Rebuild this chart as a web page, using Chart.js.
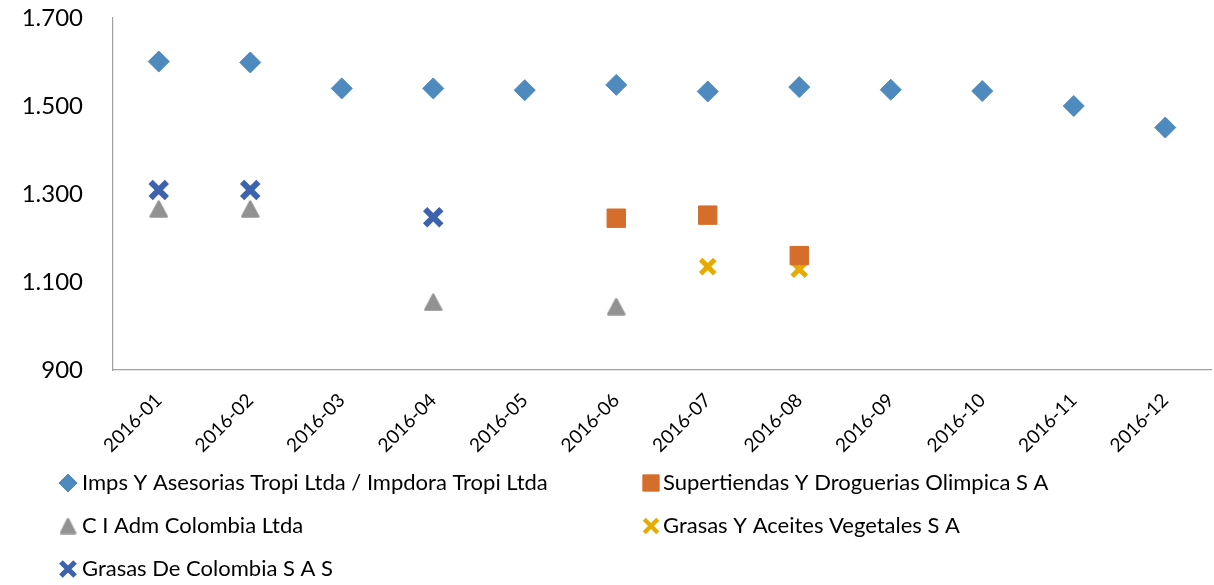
<!DOCTYPE html>
<html>
<head>
<meta charset="utf-8">
<script src="https://cdn.jsdelivr.net/npm/chart.js@4/dist/chart.umd.min.js"></script>
<style>
  html, body { margin: 0; padding: 0; background: #fff; }
  #wrap { width: 1214px; height: 585px; position: relative; }
</style>
</head>
<body>
<div id="wrap"><canvas id="c" width="1214" height="585"></canvas></div>
<script>
const categories = ['2016-01','2016-02','2016-03','2016-04','2016-05','2016-06','2016-07','2016-08','2016-09','2016-10','2016-11','2016-12'];
const seriesNames = [
  'Imps Y Asesorias Tropi Ltda / Impdora Tropi Ltda',
  'Supertiendas Y Droguerias Olimpica S A',
  'C I Adm Colombia Ltda',
  'Grasas Y Aceites Vegetales S A',
  'Grasas De Colombia S A S'
];
const impsTropi     = [1601, 1599, 1540, 1540, 1536, 1548, 1533, 1543, 1537, 1534, 1500, 1451];
const supertiendas  = [null, null, null, null, null, 1245, 1252, 1160, null, null, null, null];
const ciAdm         = [1266, 1266, null, 1054, null, 1044, null, null, null, null, null, null];
const grasasAceites = [null, null, null, null, null, null, 1135, 1129, null, null, null, null];
const grasasColombia= [1309, 1309, null, 1247, null, null, null, null, null, null, null, null];
const yTicks = [900, 1100, 1300, 1500, 1700];

const FONT = 'Lato, "Open Sans", sans-serif';

function triangleMarker(w, h, color) {
  const c = document.createElement('canvas');
  c.width = w; c.height = h;
  const g = c.getContext('2d');
  g.fillStyle = color; g.strokeStyle = color;
  g.lineJoin = 'round'; g.lineWidth = 2.5;
  g.beginPath();
  g.moveTo(w / 2, 1.5);
  g.lineTo(w - 1.5, h - 1.5);
  g.lineTo(1.5, h - 1.5);
  g.closePath();
  g.fill(); g.stroke();
  return c;
}

const styles = [
  { color: '#4f8abf', pointStyle: 'rectRot', radius: 10.5, borderWidth: 1, legendRadius: 9 },
  { color: '#d56d2b', pointStyle: 'rect',    radius: 13,   borderWidth: 1, legendRadius: 11.5 },
  { color: '#929292', pointStyle: triangleMarker(19, 18, '#929292'), radius: 10, borderWidth: 0,
    legendStyle: triangleMarker(17, 17, '#929292'), legendRadius: 9 },
  { color: '#e5ab00', pointStyle: 'crossRot',radius: 10,   borderWidth: 5, legendRadius: 9.5 },
  { color: '#3d63ae', pointStyle: 'crossRot',radius: 11.5, borderWidth: 6, legendRadius: 10 }
];
const seriesData = [impsTropi, supertiendas, ciAdm, grasasAceites, grasasColombia];

const datasets = seriesData.map((d, i) => ({
  label: seriesNames[i],
  data: d,
  showLine: false,
  pointStyle: styles[i].pointStyle,
  pointRadius: styles[i].radius,
  pointHoverRadius: styles[i].radius,
  pointBackgroundColor: styles[i].color,
  pointBorderColor: styles[i].color,
  pointBorderWidth: styles[i].borderWidth,
  backgroundColor: styles[i].color,
  borderColor: styles[i].color
}));

const legendPlugin = {
  id: 'gridLegend',
  afterDraw(chart) {
    const ctx = chart.ctx;
    const colX = [68, 651];
    const textX = [82, 663];
    const rowY = [483, 526, 569];
    ctx.save();
    chart.data.datasets.forEach((ds, i) => {
      const col = i % 2, row = Math.floor(i / 2);
      const st = styles[i];
      const x = colX[col], y = rowY[row];
      ctx.fillStyle = st.color;
      ctx.strokeStyle = st.color;
      const isCross = st.pointStyle === 'crossRot';
      ctx.lineWidth = isCross ? st.borderWidth * 0.85 : 1;
      Chart.helpers.drawPoint(ctx, {
        pointStyle: st.legendStyle || st.pointStyle,
        radius: st.legendRadius,
        rotation: 0,
        borderWidth: ctx.lineWidth
      }, x, y);
      ctx.fillStyle = '#000';
      ctx.font = '22px ' + FONT;
      ctx.textBaseline = 'middle';
      ctx.textAlign = 'left';
      ctx.fillText(ds.label, textX[col], y);
    });
    ctx.restore();
  }
};

// Stretch the plot area to the right edge, overriding the
// rotated-label padding Chart.js reserves on the right.
const stretchPlugin = {
  id: 'stretchRight',
  afterLayout(chart) {
    const target = chart.width - 3;
    const ca = chart.chartArea;
    ca.right = target; ca.width = target - ca.left;
    const xs = chart.scales.x;
    xs.right = target; xs.width = target - xs.left;
    xs.configure();
    xs._labelItems = null; xs._gridLineItems = null;
  }
};

new Chart(document.getElementById('c'), {
  type: 'line',
  data: { labels: categories, datasets },
  plugins: [stretchPlugin, legendPlugin],
  options: {
    responsive: false,
    animation: false,
    events: [],
    layout: { padding: { top: 18, right: 3, left: 0, bottom: 115 } },
    plugins: { legend: { display: false }, tooltip: { enabled: false } },
    scales: {
      x: {
        type: 'category',
        offset: true,
        grid: { display: false, drawTicks: false },
        border: { display: true, color: '#a0a0a0', width: 1.2 },
        ticks: {
          color: '#000',
          font: { family: FONT, size: 19 },
          maxRotation: 45, minRotation: 45,
          autoSkip: false,
          padding: 19
        },
        afterFit(scale) { scale.height = 100; }
      },
      y: {
        min: 900, max: 1700,
        afterBuildTicks(scale) { scale.ticks = yTicks.map(v => ({ value: v })); },
        grid: { display: false, drawTicks: false },
        border: { display: true, color: '#a0a0a0', width: 1.2 },
        ticks: {
          color: '#000',
          font: { family: FONT, size: 24 },
          padding: 30,
          callback: (v) => v.toLocaleString('de-DE')
        },
        afterFit(scale) {
          scale.width = 113;
          scale.paddingTop = 0; scale.paddingBottom = 0;
        }
      }
    }
  }
});
</script>
</body>
</html>
